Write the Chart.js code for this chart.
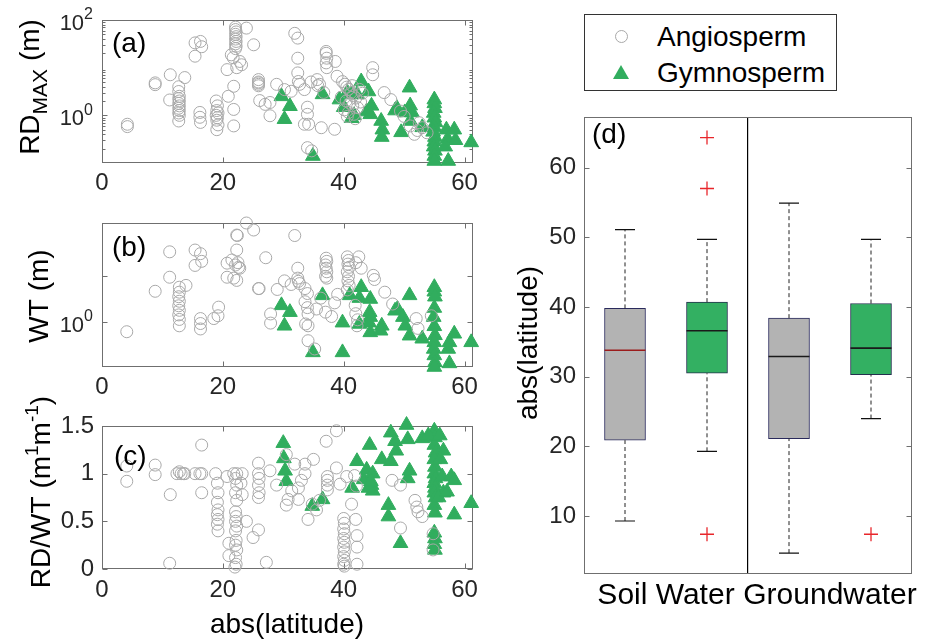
<!DOCTYPE html>
<html>
<head>
<meta charset="utf-8">
<script src="https://cdn.jsdelivr.net/npm/chart.js@4.4.1/dist/chart.umd.min.js"></script>
<style>
  body { margin: 0; background: #fff; width: 934px; height: 641px; position: relative; overflow: hidden;
         font-family: "Liberation Sans", Arial, sans-serif; }
  canvas { position: absolute; }
  #legend { position: absolute; left: 584px; top: 14px; width: 253px; height: 77px; box-sizing: border-box;
            border: 1px solid #333; background: #fff; }
  #legend .txt { position: absolute; left: 72px; font-size: 28px; line-height: 28px; color: #000; }
  #legend .circ { position: absolute; left: 30px; top: 15px; width: 13px; height: 13px; box-sizing: border-box;
                  border: 1px solid #a9a9a9; border-radius: 50%; }
  #legend .tri { position: absolute; left: 28px; top: 50px; width: 0; height: 0;
                 border-left: 8px solid transparent; border-right: 8px solid transparent; border-bottom: 14px solid #31ad5e; }
</style>
</head>
<body>
<canvas id="chartA" width="490" height="200" style="left:0;top:0"></canvas>
<canvas id="chartB" width="490" height="205" style="left:0;top:200px"></canvas>
<canvas id="chartC" width="490" height="256" style="left:0;top:385px"></canvas>
<canvas id="chartD" width="444" height="546" style="left:490px;top:95px"></canvas>
<div id="legend">
  <div class="circ"></div><div class="txt" style="top:8px">Angiosperm</div>
  <div class="tri"></div><div class="txt" style="top:44px">Gymnosperm</div>
</div>
<script>
const FONT = "'Liberation Sans', Arial, sans-serif";
const GREEN = '#31ad5e';
const GRAY = '#a9a9a9';
const FRAME = '#6f6f6f';
const TICK = '#262626';

// x ticks shared by panels a-c
const latTicks = [0, 20, 40, 60];
const rdTicks = [1, 100];
const wtTicks = [1, 10];
const wtLabelled = [1];
const ratioTicks = [0, 0.5, 1, 1.5];
const boxTicks = [10, 20, 30, 40, 50, 60];

// (a) maximum rooting depth, [abs(latitude), m]
const rdAngio = [
  [4.2,0.65],[4.2,0.58],[8.8,4.8],[8.8,4.4],[11.3,7.1],[11.2,2.1],
  [12.7,3.98],[12.7,3.16],[12.8,2.51],[12.7,2.24],[12.8,2.0],[12.7,1.78],[12.8,1.58],[12.7,1.41],[12.8,1.26],[12.7,1.12],[12.8,1.0],[12.7,0.76],
  [13.7,6.2],[15.4,33.1],[16.3,35.5],[16.5,27.5],[15.4,17.4],[16.2,1.15],[16.2,0.91],[16.3,0.71],
  [18.9,2.0],[19.1,1.58],[19.0,1.26],[19.2,1.12],[18.9,1.0],[19.1,0.89],[19.0,0.79],[19.2,0.63],[19.0,0.5],
  [20.7,9.1],[20.9,2.51],[21.8,4.07],[21.8,1.33],[21.8,0.6],
  [22.1,70.8],[22.1,63.1],[22.2,56.2],[22.1,50.1],[22.2,44.7],[22.1,39.8],[22.2,35.5],[22.1,31.6],[22.2,28.2],[22.1,25.1],
  [21.4,18.6],[21.7,16.2],[22.8,13.5],[23.1,11.5],[22.3,10],[23.9,67.6],[25.1,30.2],
  [25.9,5.62],[25.9,5.01],[25.9,4.79],[25.9,4.47],[25.9,4.17],[26.1,2.04],[27,1.7],[27.8,1.86],[27.8,0.98],[28.9,4.47],
  [31.9,52.5],[32.4,41.7],[32.4,15.8],[32.4,7.76],[32.5,5.13],[32.7,4.47],
  [30.2,3.47],[31.3,3.2],[33.5,3.47],[34.6,5.01],[35.7,4.2],
  [34,1.48],[34,1.05],[33.5,0.65],[34.2,0.65],[36.3,0.55],[38.5,0.51],[34,0.21],[34.7,0.18],
  [37.1,21.9],[37.1,20],[37.2,15.8],[37.1,12.6],[37.2,10],[38.6,13.5],[38.9,6.6],[35.6,5.62],[36,4.47],[36.7,3.02],
  [39.8,5.1],[40.2,4.5],[40.5,3.9],[40.8,3.5],[41.2,3.0],[41.6,2.6],[42,2.3],[40.4,2.0],[41,1.8],[41.5,1.6],[42.3,1.45],
  [40.1,1.3],[40.8,1.15],[41.7,1.05],[42.6,3.5],[43.1,2.9],[39.6,2.4],[41.4,4.2],[42.8,1.9],[40.6,0.95],[41.9,0.85],
  [44.8,10],[44.8,7.1],[46.7,3.0],[47.8,2.14],[49.4,1.23],[50,0.95],[51,0.6],[51.7,0.4],[52.5,0.7],[53,0.55],[52.2,0.48],[53.8,0.43]
];
const rdGymno = [
  [29.7,2.5],[31.1,1.55],[30.2,0.83],[36.5,2.75],[34.9,0.14],
  [39.3,2.14],[40,1.48],[40.6,3.0],[41.3,2.75],[42.9,5.13],[42.2,2.75],[44.1,3.16],[43.8,1.2],[41.7,1.0],[41.3,0.87],
  [44.6,1.58],[44.4,1.05],[46.2,0.76],[46.4,0.5],[46.3,0.35],[48.5,1.26],[48.8,1.41],[50.1,1.15],[51,1.6],[51.3,1.15],[51,0.76],
  [49.5,0.44],[50.9,3.8],[53,0.56],
  [55,2.14],[55,1.78],[55.1,1.41],[54.9,1.12],[55,0.89],[55.2,0.71],[55,0.56],[54.8,0.45],[55.1,0.35],[55,0.28],[54.9,0.22],[55.1,0.18],[55,0.14],[55,0.11],
  [57,0.5],[57.2,0.32],[56.8,0.22],[57.3,0.11],[58.3,0.5],[58.5,0.3],[61.1,0.27]
];

// (b) water table depth, [abs(latitude), m]
const wtAngio = [
  [4.1,0.6],[8.8,4.68],[11.2,34.7],[11.2,9.55],
  [12.8,5.75],[12.8,4.47],[12.7,3.55],[12.8,2.82],[12.7,2.24],[12.8,1.78],[12.7,1.41],[12.8,1.12],[12.8,0.81],
  [13.9,6.31],[15.4,38],[16.3,31.6],[15.4,17.4],[16.5,21.4],[16.3,1.17],[16.3,0.91],[16.3,0.69],
  [18.5,1.17],[19.3,2.09],[19.2,1.35],[20.7,19.5],[20.7,9.55],
  [21.5,22.9],[22.1,17.8],[22.5,20],[22.8,15.1],[22.6,15.8],[22.3,81.3],[22.4,79.4],[22.3,38],[21.8,9.12],[22.3,8.13],
  [23.9,150],[25.1,105],[25.9,5.37],[26,5.37],[27.1,25.7],[27.9,1.48],[27.9,0.93],[29,5.13],
  [31.9,79.4],[32.4,15.1],[32.4,9.12],[32.5,7.76],[32.7,6.92],[30.2,7.94],[31.3,6.61],
  [33.6,5.37],[34,4.17],[33.6,2.75],[34,2.04],[34.1,1.48],[33.7,0.89],[34.1,0.81],[34.1,0.38],[35.2,0.25],
  [37.1,25.1],[37.2,21.4],[37,17.8],[37.1,15.1],[37.2,12.6],[37,10],[37.2,9.12],[37,1.62],
  [40.6,26.9],[40.8,22.4],[40.7,18.6],[40.9,15.8],[40.6,12.6],[40.8,10],[40.7,7.94],[40.9,6.31],[40.6,5.01],
  [42.5,26.9],[42,20],[42.9,15.1],[41.9,2.29],[42.2,0.81],[42,1.5],[42.3,1.1],
  [44.9,10.5],[45.1,8.51],[46.8,4.47],[48.1,2.45],[52,1.17],[52.3,0.71],[54.5,1.35],
  [35.5,1.9],[36.2,3.3],[38.5,2.6],[39,4],[38,1.3]
];
const wtGymno = [
  [29.7,2.29],[31.1,1.62],[30.2,0.81],[36.5,3.8],[34.9,0.21],[39.8,0.21],[39.8,0.95],
  [41,3.8],[42.9,5.75],[42.6,3.31],[44.4,3.16],[42.6,0.89],
  [44.3,1.62],[44.4,1.26],[44.2,0.95],[44.4,0.58],[46.3,0.81],[46.1,0.63],
  [48.5,1.74],[48.9,1.91],[49.8,1.26],[50.2,0.81],[50.9,3.8],[50.9,0.49],[53,0.42],
  [55,5.75],[55,4.57],[55.1,3.55],[55,2.0],[54.9,1.26],[55,0.79],[55.1,0.5],[55,0.35],[54.9,0.25],[55,0.18],[55.1,0.126],[55,0.1],
  [57.5,0.35],[57.3,0.25],[57.5,0.12],[58.3,0.54],[61.1,0.35]
];

// (c) RD/WT ratio, [abs(latitude), ratio]
const ratioAngio = [
  [4.1,1.08],[4.1,0.92],[8.8,1.09],[8.8,0.99],[11.3,0.78],[11.2,0.06],
  [12.4,1.0],[12.8,1.02],[13.1,1.0],[13.5,1.0],[13.7,1.0],[15.4,1.0],[16.2,1.0],[16.5,1.0],[16.5,1.3],[16.5,0.8],
  [18.8,1.0],[19.1,0.9],[19.2,0.8],[19.1,0.7],[19.2,0.62],[19.1,0.57],[19.2,0.52],[19.1,0.47],[19.2,0.4],
  [20.7,0.97],[21,0.27],[21,0.14],
  [21.8,1.0],[22.3,1.0],[22.1,0.95],[22.3,0.88],[22.1,0.8],[22.3,0.72],[22.1,0.6],[22.2,0.55],[22.1,0.5],[22.3,0.45],
  [22.1,0.4],[22.2,0.3],[22.1,0.25],[22.3,0.2],[22.1,0.12],[22.2,0.05],[22,0.02],
  [23.2,1.0],[23,0.9],[23.2,0.78],[23.9,0.5],[25,0.33],
  [25.9,1.11],[25.9,1.0],[26,0.95],[25.9,0.88],[26,0.8],[25.9,0.75],[25.9,0.41],[27.2,0.07],[27.8,1.03],[28.9,0.88],[30.5,0.67],
  [38.8,1.45],[37.1,1.34],[30.5,1.2],[31.9,1.1],[33.6,1.1],[35,1.15],[33.6,1.0],[33,0.93],[32.5,0.85],[31.4,0.82],[30.8,0.73],[32.5,0.73],
  [34.1,0.52],[34.8,0.68],[35.5,0.62],[36,0.72],
  [37.3,0.97],[37.3,0.93],[37.3,0.88],[37.3,0.83],[38.8,1.06],[39.4,0.89],[40.5,0.97],[41.8,0.98],[42.1,0.87],
  [40,0.53],[40.1,0.48],[40,0.42],[40.1,0.37],[40,0.32],[40.1,0.28],[40,0.23],[40.1,0.18],[40,0.13],[40.1,0.09],[40,0.05],[40.1,0.03],
  [42,0.52],[42.2,0.35],[42.2,0.23],[42.2,0.05],[41.3,0.68],
  [48,0.93],[49.4,0.88],[49.4,0.43],[51.8,0.72],[52.3,0.6],[53,0.55],[52.1,0.65],[54.8,0.37],[54.8,0.2]
];
const ratioGymno = [
  [30,1.32],[30.1,1.16],[30.3,1.03],[30.5,0.92],[34.8,0.66],[36.5,0.73],
  [41.4,0.85],[42.2,1.13],[43.3,0.94],[43.8,1.04],[44.6,0.88],[44.8,1.0],[44.8,0.82],[44.1,0.85],[44.5,0.92],[44.3,1.3],
  [46.3,1.15],[47.8,1.43],[48.5,1.34],[48.7,1.24],[47.8,1.13],[50.4,1.51],[50.6,1.36],[53,1.37],[50.6,0.95],[50.9,1.03],
  [47.4,0.67],[47.4,0.55],[49.4,0.27],
  [55,1.45],[55.1,1.38],[55,1.3],[55.2,1.22],[55,1.15],[55.1,1.07],[55,1.0],[55.2,0.95],[55,0.9],[55.1,0.85],[55,0.8],[55.2,0.75],
  [55,0.67],[55.1,0.59],[55,0.38],[55.1,0.32],[55,0.26],[55.1,0.2],
  [54,1.4],[55.9,1.4],[56.5,1.24],[56.3,0.97],[57.8,0.97],[56.5,0.8],[56,1.15],[55.7,0.75],[58.3,0.57],[61.1,0.69],[58.3,0.93],[57.1,0.81]
];

// (d) box plot statistics of abs(latitude)
const groups = ['Soil Water', 'Groundwater'];
const angioLo = [9.3, 4.7], angioQ1 = [20.9, 21.1], angioMed = [33.8, 32.9], angioQ3 = [39.8, 38.4], angioHi = [51.1, 54.9];
const gymnoLo = [19.3, 24.0], gymnoQ1 = [30.5, 30.3], gymnoMed = [36.6, 34.1], gymnoQ3 = [40.7, 40.5], gymnoHi = [49.7, 49.7];
const gymnoOut = [[64.3, 57.0, 7.4], [7.4]];

function drawRich(ctx, parts, x, y, vertical, align) {
  ctx.save();
  ctx.translate(x, y);
  if (vertical) ctx.rotate(-Math.PI / 2);
  ctx.textBaseline = 'middle';
  ctx.textAlign = 'left';
  ctx.fillStyle = parts.color || '#000';
  let total = 0;
  parts.forEach(p => { ctx.font = p.size + 'px ' + FONT; p.w = ctx.measureText(p.t).width; total += p.w; });
  let cx = align === 'right' ? -total : align === 'left' ? 0 : -total / 2;
  parts.forEach(p => { ctx.font = p.size + 'px ' + FONT; ctx.fillText(p.t, cx, p.dy || 0); cx += p.w; });
  ctx.restore();
}

function framePlugin(p) {
  return {
    id: 'frame',
    beforeDatasetsDraw(chart) {
      const ctx = chart.ctx, a = chart.chartArea;
      const l = Math.round(a.left) + 0.5, r = Math.round(a.right) - 0.5, t = Math.round(a.top) + 0.5, b = Math.round(a.bottom) - 0.5;
      ctx.save();
      ctx.strokeStyle = FRAME;
      ctx.lineWidth = 1;
      ctx.strokeRect(l, t, r - l, b - t);
      ctx.beginPath();
      if (p.xTicks) {
        chart.scales.x.ticks.forEach(tk => {
          const x = Math.round(chart.scales.x.getPixelForValue(tk.value)) + 0.5;
          ctx.moveTo(x, b); ctx.lineTo(x, b - 5);
          ctx.moveTo(x, t); ctx.lineTo(x, t + 5);
        });
      }
      const ys = chart.scales.y;
      ys.ticks.forEach(tk => {
        const y = Math.round(ys.getPixelForValue(tk.value)) + 0.5;
        ctx.moveTo(l, y); ctx.lineTo(l + 5, y);
        ctx.moveTo(r, y); ctx.lineTo(r - 5, y);
      });
      if (p.minor) {
        for (let k = -1; k <= 1; k++) {
          for (let m = 2; m <= 9; m++) {
            const v = m * Math.pow(10, k);
            if (v <= ys.min || v >= ys.max) continue;
            const y = Math.round(ys.getPixelForValue(v)) + 0.5;
            ctx.moveTo(l, y); ctx.lineTo(l + 3, y);
            ctx.moveTo(r, y); ctx.lineTo(r - 3, y);
          }
        }
      }
      ctx.stroke();
      ctx.restore();
    },
    afterDraw(chart) {
      const ctx = chart.ctx, a = chart.chartArea;
      if (p.logLabels) {
        p.logLabels.forEach(v => {
          const y = chart.scales.y.getPixelForValue(v);
          const parts = [{ t: '10', size: 22, dy: 4 }, { t: String(Math.round(Math.log10(v))), size: 16, dy: -5 }];
          parts.color = TICK;
          drawRich(ctx, parts, a.left - 9, y, false, 'right');
        });
      }
      (p.titles || []).forEach(tt => drawRich(ctx, tt.parts, tt.x, tt.y, tt.vertical));
      if (p.letter) drawRich(ctx, [{ t: p.letter.t, size: 28 }], p.letter.x, p.letter.y, false, 'left');
    }
  };
}

function scatterPanel(id, angio, gymno, p) {
  return new Chart(document.getElementById(id), {
    type: 'scatter',
    data: {
      datasets: [
        { label: 'Angiosperm', data: angio.map(d => ({ x: d[0], y: d[1] })), pointStyle: 'circle', pointRadius: 6,
          backgroundColor: 'rgba(255,255,255,0)', borderColor: GRAY, borderWidth: 1, clip: false },
        { label: 'Gymnosperm', data: gymno.map(d => ({ x: d[0], y: d[1] })), pointStyle: 'triangle', pointRadius: 8.5,
          backgroundColor: GREEN, borderColor: GREEN, borderWidth: 1, clip: false }
      ]
    },
    options: {
      responsive: false, animation: false, events: [],
      layout: { padding: { top: p.top, right: 17, left: 0, bottom: 0 } },
      plugins: { legend: { display: false }, tooltip: { enabled: false } },
      scales: {
        x: {
          type: 'linear', min: 0, max: 61.4,
          afterBuildTicks: s => { s.ticks = latTicks.map(v => ({ value: v })); },
          afterFit: s => { s.height = p.xh; },
          grid: { display: false, drawTicks: false }, border: { display: false },
          ticks: { font: { size: 24, family: FONT }, color: TICK, padding: p.xpad, maxRotation: 0, callback: v => String(v) }
        },
        y: {
          type: p.log ? 'logarithmic' : 'linear', min: p.ymin, max: p.ymax,
          afterBuildTicks: s => { s.ticks = p.yticks.map(v => ({ value: v })); },
          afterFit: s => { s.width = 102; },
          grid: { display: false, drawTicks: false }, border: { display: false },
          ticks: { display: !p.log, font: { size: 24, family: FONT }, color: TICK, padding: 8, callback: v => String(v) }
        }
      }
    },
    plugins: [framePlugin(p)]
  });
}

scatterPanel('chartA', rdAngio, rdGymno, {
  top: 20, xh: 37, xpad: 6, log: true, ymin: 0.1, ymax: 100, yticks: rdTicks, logLabels: rdTicks, minor: true, xTicks: true,
  letter: { t: '(a)', x: 112, y: 44 },
  titles: [{ parts: [{ t: 'RD', size: 28 }, { t: 'MAX', size: 21, dy: 10 }, { t: ' (m)', size: 28 }], x: 31, y: 87, vertical: true }]
});

scatterPanel('chartB', wtAngio, wtGymno, {
  top: 23, xh: 38, xpad: 6, log: true, ymin: 0.1, ymax: 150, yticks: wtTicks, logLabels: wtLabelled, xTicks: true,
  letter: { t: '(b)', x: 112, y: 48 },
  titles: [{ parts: [{ t: 'WT (m)', size: 28 }], x: 40, y: 96, vertical: true }]
});

scatterPanel('chartC', ratioAngio, ratioGymno, {
  top: 41, xh: 72, xpad: 7, log: false, ymin: 0, ymax: 1.5, yticks: ratioTicks, xTicks: true,
  letter: { t: '(c)', x: 114, y: 72 },
  titles: [
    { parts: [{ t: 'RD/WT (m', size: 28 }, { t: '1', size: 19, dy: -9 }, { t: 'm', size: 28 }, { t: '-1', size: 19, dy: -9 }, { t: ')', size: 28 }],
      x: 42, y: 107, vertical: true },
    { parts: [{ t: 'abs(latitude)', size: 28 }], x: 287, y: 240, vertical: false }
  ]
});

// box plot pieces on a hidden linear axis (0..4): box k of group g sits at 2g + k + 0.5
const boxPos = (g, s) => g * 2 + s + 0.5;
const whiskerPts = [], capPts = [], medianPts = [], outlierPts = [];
groups.forEach((g, i) => {
  [[angioLo, angioQ1, angioMed, angioQ3, angioHi], [gymnoLo, gymnoQ1, gymnoMed, gymnoQ3, gymnoHi]].forEach((st, s) => {
    const x = boxPos(i, s);
    whiskerPts.push({ x, y: st[0][i] }, { x, y: st[1][i] }, { x, y: null }, { x, y: st[3][i] }, { x, y: st[4][i] }, { x, y: null });
    capPts.push({ x: x - 0.122, y: st[0][i] }, { x: x + 0.122, y: st[0][i] }, { x, y: null },
                { x: x - 0.122, y: st[4][i] }, { x: x + 0.122, y: st[4][i] }, { x, y: null });
    medianPts.push({ x: x - 0.25, y: st[2][i] }, { x: x + 0.25, y: st[2][i] }, { x, y: null });
  });
  gymnoOut[i].forEach(v => outlierPts.push({ x: boxPos(i, 1), y: v }));
});

new Chart(document.getElementById('chartD'), {
  type: 'bar',
  data: {
    labels: groups,
    datasets: [
      { type: 'bar', label: 'Angiosperm', xAxisID: 'x2', data: groups.map((g, i) => ({ x: boxPos(i, 0), y: [angioQ1[i], angioQ3[i]] })),
        backgroundColor: '#b3b3b3', borderColor: '#2a2a5c', borderWidth: 1, borderSkipped: false, grouped: false, barThickness: 41, order: 2 },
      { type: 'bar', label: 'Gymnosperm', xAxisID: 'x2', data: groups.map((g, i) => ({ x: boxPos(i, 1), y: [gymnoQ1[i], gymnoQ3[i]] })),
        backgroundColor: '#33b062', borderColor: '#24304e', borderWidth: 1, borderSkipped: false, grouped: false, barThickness: 41, order: 2 },
      { type: 'line', label: 'whiskers', xAxisID: 'x2', data: whiskerPts, borderColor: '#222', borderWidth: 1,
        borderDash: [4, 3], pointRadius: 0, spanGaps: false, fill: false, order: 1 },
      { type: 'line', label: 'caps', xAxisID: 'x2', data: capPts, borderColor: '#111', borderWidth: 1.2,
        pointRadius: 0, spanGaps: false, fill: false, order: 0 },
      { type: 'line', label: 'medians', xAxisID: 'x2', data: medianPts, borderWidth: 1.6, pointRadius: 0, spanGaps: false, fill: false,
        borderColor: '#1a1a1a', segment: { borderColor: c => c.p0DataIndex === 0 ? '#9b1c1c' : '#1a1a1a' }, order: 0 },
      { type: 'scatter', label: 'outliers', xAxisID: 'x2', data: outlierPts, pointStyle: 'cross', pointRadius: 7,
        borderColor: '#e8262b', borderWidth: 1.3, order: 0 }
    ]
  },
  options: {
    responsive: false, animation: false, events: [],
    layout: { padding: { top: 17, right: 22, left: 0, bottom: 0 } },
    plugins: { legend: { display: false }, tooltip: { enabled: false } },
    scales: {
      x: {
        type: 'category', offset: true,
        afterFit: s => { s.height = 67; },
        grid: { display: true, offset: true, drawTicks: false, lineWidth: 1.2,
                color: c => c.index === 1 ? '#000' : 'rgba(0,0,0,0)' },
        border: { display: false },
        ticks: { font: { size: 30, family: FONT }, color: '#000', padding: 4, maxRotation: 0, minRotation: 0, autoSkip: false }
      },
      x2: { type: 'linear', min: 0, max: 4, offset: false, display: false, grid: { display: false } },
      y: {
        type: 'linear', min: 1.7, max: 67.2,
        afterBuildTicks: s => { s.ticks = boxTicks.map(v => ({ value: v })); },
        afterFit: s => { s.width = 94; },
        grid: { display: false, drawTicks: false }, border: { display: false },
        ticks: { font: { size: 24, family: FONT }, color: TICK, padding: 8, callback: v => String(v) }
      }
    }
  },
  plugins: [framePlugin({
    xTicks: false,
    letter: { t: '(d)', x: 102, y: 40 },
    titles: [{ parts: [{ t: 'abs(latitude)', size: 28 }], x: 39, y: 248, vertical: true }]
  })]
});
</script>
</body>
</html>
